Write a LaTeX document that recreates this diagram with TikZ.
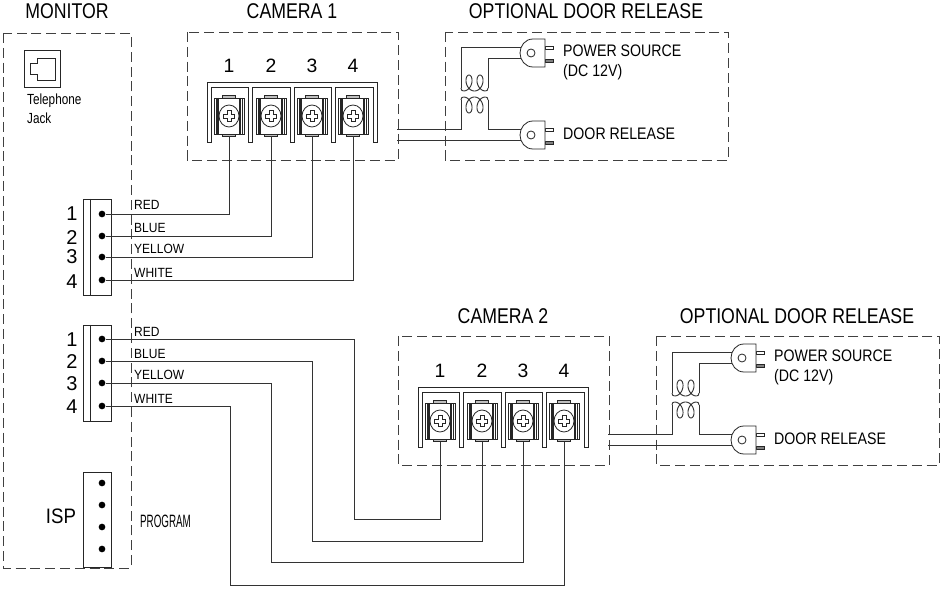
\documentclass[tikz,border=0pt]{standalone}
\usepackage{fontspec}
\setmainfont{Liberation Sans}
\usetikzlibrary{positioning}
\tikzset{
  wire/.style={draw=black!80,line width=0.7pt},
  dashbox/.style={draw=black!75,line width=0.7pt,dash pattern=on 7.5pt off 3.6pt},
  outline/.style={draw=black!85,line width=0.6pt},
  pindot/.style={circle,fill=black,inner sep=0pt,minimum size=5pt},
  titletext/.style={inner sep=0pt,xscale=0.83,font=\fontsize{16}{18}\selectfont},
  numtext/.style={inner sep=0pt,font=\fontsize{14.5}{16}\selectfont},
  bignum/.style={inner sep=0pt,font=\fontsize{15}{17}\selectfont},
  isptext/.style={inner sep=0pt,xscale=0.89,font=\fontsize{15.7}{17}\selectfont},
  portext/.style={anchor=west,inner sep=0pt,xscale=0.85,font=\fontsize{12.5}{14}\selectfont},
  colortext/.style={anchor=west,inner sep=0pt,xscale=0.9,font=\fontsize{10}{12}\selectfont},
  jacktext/.style={anchor=west,inner sep=0pt,xscale=0.8,font=\fontsize{11}{13}\selectfont},
  progtext/.style={anchor=west,inner sep=0pt,xscale=0.55,font=\fontsize{13.4}{15}\selectfont}
}
\newcommand{\screwcell}[3]{
\begin{scope}[shift={(#2,#3)}]
\draw[outline,fill=black!25] (-6.5,-20.5) rectangle (6.5,20.5);
\draw[outline,fill=white] (-15,-18) rectangle (15,18);
\draw[outline] (-13,-18) -- (-13,18);
\draw[outline] (13,-18) -- (13,18);
\draw[outline,line width=1.1pt] (-11,-18) -- (-11,18);
\draw[outline,line width=1.1pt] (11,-18) -- (11,18);
\draw[outline,fill=white] (0,0) ellipse (10 and 11);
\draw[outline] (-2,-5.5) -- (2,-5.5) -- (2,-2) -- (5.5,-2) -- (5.5,2) -- (2,2) -- (2,5.5) -- (-2,5.5) -- (-2,2) -- (-5.5,2) -- (-5.5,-2) -- (-2,-2) -- cycle;
\coordinate (#1) at (0,20.5);
\end{scope}
}
\newcommand{\termblock}[1]{
\draw[outline] (207,142) -- (207,82) -- (377,82) -- (377,142) -- (373,142) -- (373,87) -- (335,87) -- (335,142) -- (331,142) -- (331,87) -- (294,87) -- (294,142) -- (290,142) -- (290,87) -- (252,87) -- (252,142) -- (248,142) -- (248,87) -- (211,87) -- (211,142) -- cycle;
\screwcell{#1a}{229}{116}
\screwcell{#1b}{271}{116}
\screwcell{#1c}{312}{116}
\screwcell{#1d}{353}{116}
\node[numtext] (#1n1) at (229,66) {1};
\node[numtext] (#1n2) at (271,66) {2};
\node[numtext] (#1n3) at (312,66) {3};
\node[numtext] (#1n4) at (353,66) {4};
}
\newcommand{\plugbody}[3]{
\begin{scope}[shift={(#2,#3)}]
\draw[outline] (545,46) rectangle (553,49);
\draw[outline,fill=black!50] (545,59) rectangle (553,62);
\draw[outline,fill=white] (545,39) -- (533,39) .. controls (525,39) and (520,46) .. (520,53) .. controls (520,60) and (525,67) .. (533,67) -- (545,67) -- cycle;
\draw[outline] (531,53) circle (4);
\end{scope}
}
\newcommand{\doorrelease}[1]{
\coordinate (#1in) at (397,129);
\coordinate (#1ret) at (397,140);
\coordinate (#1pa) at (525,47);
\coordinate (#1pb) at (525,58);
\coordinate (#1pc) at (525,129);
\coordinate (#1pd) at (525,140);
\coordinate (#1la) at (461,88);
\coordinate (#1lb) at (461,100);
\coordinate (#1ra) at (488,88);
\coordinate (#1rb) at (488,100);
\draw[wire] (#1la) |- (#1pa);
\draw[wire] (#1ra) |- (#1pb);
\draw[wire] (#1in) -| (#1lb);
\draw[wire] (#1rb) |- (#1pc);
\draw[wire] (#1ret) -- (#1pd);
\draw[wire] plot[domain=-180:540,samples=80] ({469+\x*11/360-5.5*sin(\x)},{83-8*cos(\x)});
\draw[wire] (#1la) .. controls (461,90) and (462,91) .. (463.5,91);
\draw[wire] (485.5,91) .. controls (487,91) and (488,90) .. (#1ra);
\draw[wire] plot[domain=-180:540,samples=80] ({469+\x*11/360-5.5*sin(\x)},{105+8*cos(\x)});
\draw[wire] (#1lb) .. controls (461,98) and (462,97) .. (463.5,97);
\draw[wire] (485.5,97) .. controls (487,97) and (488,98) .. (#1rb);
\plugbody{#1plugtop}{0}{0}
\plugbody{#1plugbot}{0}{82}
\node[portext] (#1ps) at (563,51) {POWER SOURCE};
\node[portext] (#1dc) at (563,72) {(DC 12V)};
\node[portext] (#1dr) at (563,134) {DOOR RELEASE};
}
\begin{document}
\begin{tikzpicture}[x=0.75pt,y=-0.75pt]
\useasboundingbox[fill=white] (0,0) rectangle (945,598);
\draw[dashbox] (3,33) rectangle (131,568);
\node[titletext] (montitle) at (67,11) {MONITOR};
\draw[outline] (24,50) rectangle (60,87);
\draw[outline] (55.5,58) -- (37,58) -- (37,63) -- (30,63) -- (30,74) -- (37,74) -- (37,80) -- (55.5,80) -- cycle;
\node[jacktext] (jacka) at (27,101) {Telephone};
\node[jacktext] (jackb) at (27,118) {Jack};
% first monitor socket
\draw[outline] (83,199) rectangle (111,295);
\draw[outline] (90,199) -- (90,295);
\node[pindot] (a1) at (102,214) {};
\node[pindot] (a2) at (102,236) {};
\node[pindot] (a3) at (102,257) {};
\node[pindot] (a4) at (102,280) {};
\node[bignum] (an1) at (72,214) {1};
\node[bignum] (an2) at (72,238) {2};
\node[bignum] (an3) at (72,257) {3};
\node[bignum] (an4) at (72,282) {4};
% second monitor socket
\draw[outline] (83,325) rectangle (111,421);
\draw[outline] (90,325) -- (90,421);
\node[pindot] (b1) at (102,339) {};
\node[pindot] (b2) at (102,361) {};
\node[pindot] (b3) at (102,383) {};
\node[pindot] (b4) at (102,406) {};
\node[bignum] (bn1) at (72,340) {1};
\node[bignum] (bn2) at (72,362) {2};
\node[bignum] (bn3) at (72,384) {3};
\node[bignum] (bn4) at (72,407) {4};
% isp header
\draw[outline] (83,472) rectangle (111,567);
\node[pindot] (i1) at (102,483) {};
\node[pindot] (i2) at (102,505) {};
\node[pindot] (i3) at (102,527) {};
\node[pindot] (i4) at (102,549) {};
\node[isptext] (isp) at (61,516) {ISP};
\node[progtext] (prog) at (140,521) {PROGRAM};
% camera 1
\draw[dashbox] (187,32) rectangle (398,160);
\node[titletext] (cam1) at (292,11) {CAMERA 1};
\termblock{k}
\draw[dashbox] (445,32) rectangle (728,160);
\node[titletext] (opt1) at (586,11) {OPTIONAL DOOR RELEASE};
\doorrelease{p}
\draw[wire] (a1) -| (ka);
\draw[wire] (a2) -| (kb);
\draw[wire] (a3) -| (kc);
\draw[wire] (a4) -| (kd);
\node[colortext] (ra) at (134,205) {RED};
\node[colortext] (rb) at (134,228) {BLUE};
\node[colortext] (rc) at (134,249) {YELLOW};
\node[colortext] (rd) at (134,273) {WHITE};
% camera 2
\begin{scope}[shift={(211,305)}]
\draw[dashbox] (187,31) rectangle (398,160);
\node[titletext] (cam2) at (292,11) {CAMERA 2};
\termblock{m}
\draw[dashbox] (445,31) rectangle (728,160);
\node[titletext] (opt2) at (586,11) {OPTIONAL DOOR RELEASE};
\doorrelease{q}
\end{scope}
\coordinate (ta) at (354,519);
\coordinate (tb) at (312,541);
\coordinate (tc) at (271,562);
\coordinate (td) at (230,585);
\draw[wire] (b1) -| (ta) -| (ma);
\draw[wire] (b2) -| (tb) -| (mb);
\draw[wire] (b3) -| (tc) -| (mc);
\draw[wire] (b4) -| (td) -| (md);
\node[colortext] (sa) at (134,332) {RED};
\node[colortext] (sb) at (134,354) {BLUE};
\node[colortext] (sc) at (134,375) {YELLOW};
\node[colortext] (sd) at (134,399) {WHITE};
\end{tikzpicture}
\end{document}
